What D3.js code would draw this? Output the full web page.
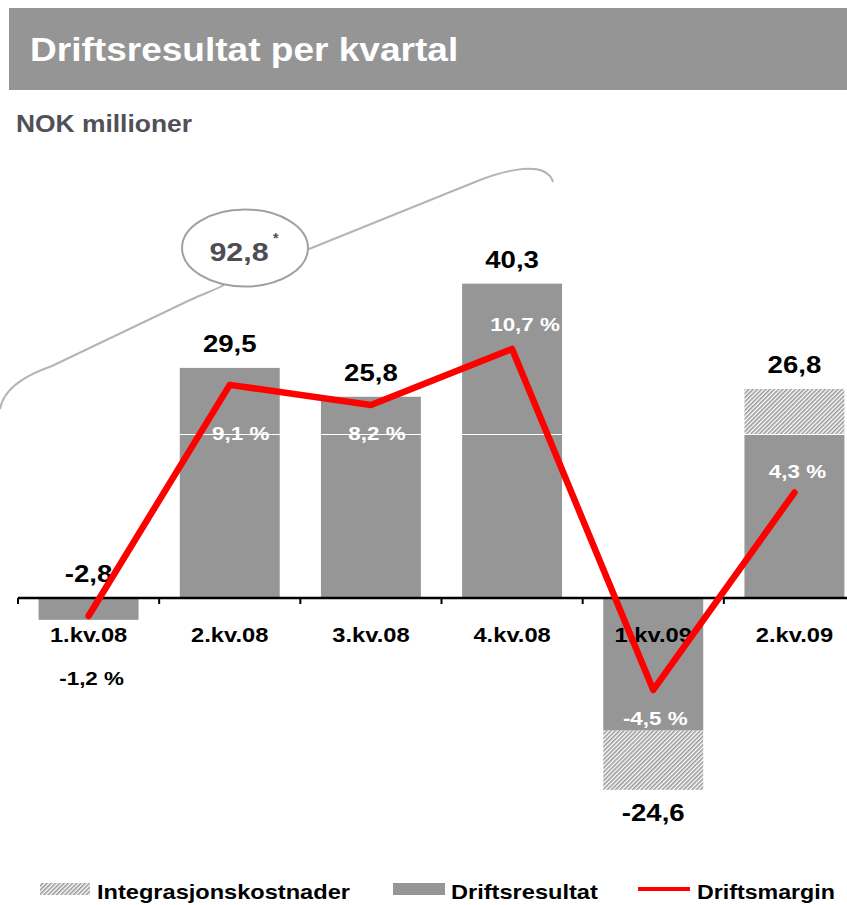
<!DOCTYPE html>
<html>
<head>
<meta charset="utf-8">
<script src="https://cdn.jsdelivr.net/npm/d3@7"></script>
<style>
  html, body { margin: 0; padding: 0; background: #fff; }
  #chart { width: 847px; height: 905px; }
  text { font-family: "Liberation Sans", Arial, sans-serif; font-weight: bold; }
</style>
</head>
<body>
<div id="chart"></div>
<script>
const quarters = ["1.kv.08", "2.kv.08", "3.kv.08", "4.kv.08", "1.kv.09", "2.kv.09"];
// driftsresultat (solid) and integration costs (hatched), NOK mill.
const driftsresultat = [-2.8, 29.5, 25.8, 40.3, -17.0, 21.0];
const integrasjon = [0, 0, 0, 0, -7.6, 5.8];
const totals = [-2.8, 29.5, 25.8, 40.3, -24.6, 26.8];
// driftsmargin, %
const margins = [-1.2, 9.1, 8.2, 10.7, -4.5, 4.3];
const bracketTotal = 92.8;
const legendNames = ["Integrasjonskostnader", "Driftsresultat", "Driftsmargin"];

const width = 847;
const height = 905;

const svg = d3.select("#chart").append("svg")
  .attr("width", width)
  .attr("height", height);

const locale = d3.formatLocale({ decimal: ",", thousands: " ", grouping: [3], currency: ["", ""], minus: "-" });
const fmt = locale.format(".1f");

const defs = svg.append("defs");
const hatch = defs.append("pattern")
  .attr("id", "hatch")
  .attr("patternUnits", "userSpaceOnUse")
  .attr("width", 3)
  .attr("height", 3)
  .attr("patternTransform", "rotate(45)");
hatch.append("rect").attr("width", 3).attr("height", 3).attr("fill", "#fff");
hatch.append("line")
  .attr("x1", 0.8).attr("y1", 0).attr("x2", 0.8).attr("y2", 3)
  .attr("stroke", "#999").attr("stroke-width", 1.6);

// helper: text slightly stretched horizontally like the original slide
function label(g, x, y, txt, size, sx, anchor, color) {
  return g.append("text")
    .attr("transform", `translate(${x},${y}) scale(${sx},1)`)
    .attr("text-anchor", anchor)
    .attr("font-size", size)
    .attr("fill", color)
    .text(txt);
}

// title bar
svg.append("rect")
  .attr("x", 9).attr("y", 8)
  .attr("width", width - 9).attr("height", 82)
  .attr("fill", "#959595");
label(svg, 30, 61, "Driftsresultat per kvartal", 34, 1.09, "start", "#fff");
label(svg, 16, 132, "NOK millioner", 24, 1.1, "start", "#505058");

// scales
const x = d3.scaleBand()
  .domain(quarters)
  .range([18, 865])
  .paddingInner(0.292)
  .paddingOuter(0.146);

const y = d3.scaleLinear().domain([-30, 45]).range([832, 247]);
const y2 = d3.scaleLinear().domain([-5, 12]).range([701.2, 319.8]);

const g = svg.append("g");

// bars
g.selectAll(".bar")
  .data(quarters)
  .enter()
  .append("rect")
  .attr("class", "bar")
  .attr("x", d => x(d))
  .attr("width", x.bandwidth())
  .attr("y", (d, i) => Math.min(y(0), y(driftsresultat[i])))
  .attr("height", (d, i) => Math.abs(y(driftsresultat[i]) - y(0)))
  .attr("fill", "#969696");

g.selectAll(".integ")
  .data(quarters.filter((d, i) => integrasjon[i] !== 0))
  .enter()
  .append("rect")
  .attr("class", "integ")
  .attr("x", d => x(d))
  .attr("width", x.bandwidth())
  .attr("y", d => {
    const i = quarters.indexOf(d);
    return Math.min(y(driftsresultat[i]), y(totals[i]));
  })
  .attr("height", d => {
    const i = quarters.indexOf(d);
    return Math.abs(y(totals[i]) - y(driftsresultat[i]));
  })
  .attr("fill", "url(#hatch)");

// white gridline seen across the bars
g.append("line")
  .attr("x1", 18).attr("x2", width)
  .attr("y1", Math.round(y(21)) + 0.5).attr("y2", Math.round(y(21)) + 0.5)
  .attr("stroke", "#fff").attr("stroke-width", 1);

// axis line and ticks between categories
const step = x.step();
g.append("line")
  .attr("x1", 18).attr("x2", width)
  .attr("y1", y(0)).attr("y2", y(0))
  .attr("stroke", "#000").attr("stroke-width", 2.5);
g.selectAll(".tick")
  .data(quarters)
  .enter()
  .append("line")
  .attr("x1", d => x(d) - step * 0.146)
  .attr("x2", d => x(d) - step * 0.146)
  .attr("y1", y(0))
  .attr("y2", y(0) + 6)
  .attr("stroke", "#000").attr("stroke-width", 2);

// category labels
quarters.forEach(q => {
  label(g, x(q) + x.bandwidth() / 2, 642, q, 21, 1.13, "middle", "#000");
});

// total value labels
quarters.forEach((q, i) => {
  const v = totals[i];
  const cx = x(q) + x.bandwidth() / 2;
  const ly = v < -10 ? y(v) + 31 : (v < 0 ? y(0) - 16 : y(v) - 16);
  label(g, cx, ly, fmt(v), 24, 1.15, "middle", "#000");
});

// margin line
const line = d3.line()
  .x((d, i) => x(quarters[i]) + x.bandwidth() / 2)
  .y(d => y2(d));

g.append("path")
  .datum(margins)
  .attr("d", line)
  .attr("fill", "none")
  .attr("stroke", "#ff0000")
  .attr("stroke-width", 6.5)
  .attr("stroke-linecap", "round")
  .attr("stroke-linejoin", "round");

// margin labels (offsets from each point)
const pctOffset = [[3, 69], [11, 55], [6, 35], [13, -18], [2, 35], [3, -15]];
margins.forEach((m, i) => {
  const cx = x(quarters[i]) + x.bandwidth() / 2 + pctOffset[i][0];
  const cy = y2(m) + pctOffset[i][1];
  label(g, cx, cy, fmt(m) + " %", 19, 1.18, "middle", i === 0 ? "#000" : "#fff");
});

// bracket over first four quarters with the sum
const br = svg.append("g");
br.append("path")
  .attr("d", "M0,409 C3,392 20,377 52,366 L190,300 C205,293 215,290 224,285")
  .attr("fill", "none").attr("stroke", "#b4b4b4").attr("stroke-width", 2);
br.append("path")
  .attr("d", "M309,249 L480,180 C505,170 530,166 543,171 C549,174 552,178 553,182")
  .attr("fill", "none").attr("stroke", "#b4b4b4").attr("stroke-width", 2);
br.append("ellipse")
  .attr("cx", 245).attr("cy", 248)
  .attr("rx", 63).attr("ry", 38.5)
  .attr("fill", "#fff")
  .attr("stroke", "#a0a0a0").attr("stroke-width", 2);
label(br, 239, 261, fmt(bracketTotal), 26, 1.17, "middle", "#4d4d55");
label(br, 273, 243, "*", 14, 1, "start", "#4d4d55");

// legend
const lg = svg.append("g");
lg.append("rect").attr("x", 40).attr("y", 883).attr("width", 50).attr("height", 12).attr("fill", "url(#hatch)");
label(lg, 97, 899, legendNames[0], 20, 1.18, "start", "#000");
lg.append("rect").attr("x", 393).attr("y", 883).attr("width", 52).attr("height", 12).attr("fill", "#969696");
label(lg, 451, 899, legendNames[1], 20, 1.18, "start", "#000");
lg.append("line").attr("x1", 638).attr("x2", 690).attr("y1", 889).attr("y2", 889)
  .attr("stroke", "#ff0000").attr("stroke-width", 4);
label(lg, 697, 899, legendNames[2], 20, 1.16, "start", "#000");
</script>
</body>
</html>
